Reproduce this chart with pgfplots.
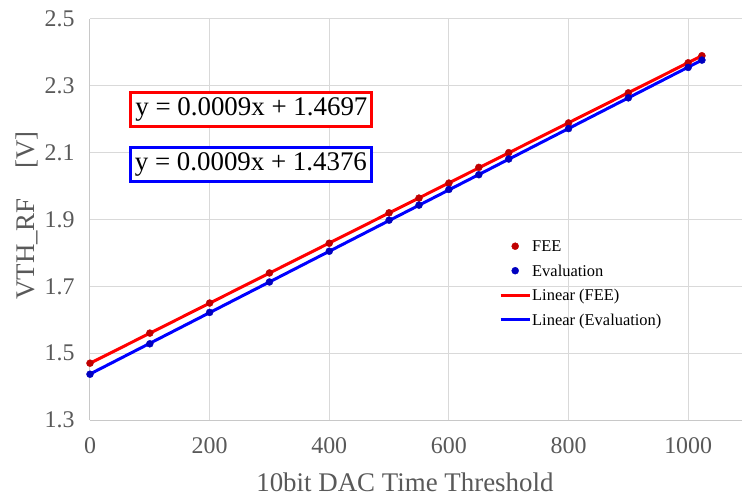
\documentclass[border=0pt]{standalone}
\usepackage{fontspec}
\setmainfont{Liberation Serif}
\usepackage{pgfplots}
\pgfplotsset{compat=1.18}
\usetikzlibrary{calc}

\definecolor{txtgray}{HTML}{595959}
\definecolor{gridgray}{HTML}{D9D9D9}
\definecolor{axgray}{HTML}{C8C8C8}
\definecolor{feemark}{HTML}{C00000}
\definecolor{evalmark}{HTML}{0000C0}
\definecolor{feeline}{HTML}{FF0000}
\definecolor{evalline}{HTML}{0000FF}

\pgfplotsset{
  markleg/.style={legend image code/.code={\path[draw=none] (0bp,0bp) -- (29bp,0bp);
    \draw[##1] plot[only marks] coordinates {(14.5bp,0bp)};}},
  lineleg/.style={legend image code/.code={\draw[##1] (0bp,0bp) -- (29bp,0bp);}},
}

\begin{document}
\begin{tikzpicture}
\begin{axis}[
  scale only axis,
  width=652bp, height=401bp,
  xmin=0, xmax=1090,
  ymin=1.3, ymax=2.5,
  xtick={0,200,400,600,800,1000},
  ytick={1.3,1.5,1.7,1.9,2.1,2.3,2.5},
  axis x line*=bottom,
  axis y line*=left,
  axis line style={draw=axgray, line width=1bp},
  grid=major,
  grid style={gridgray, line width=1bp},
  major tick length=0pt,
  tick label style={font=\fontsize{24}{24}\selectfont, text=txtgray},
  /pgf/number format/assume math mode=true,
  xticklabel style={yshift=-14bp, /pgf/number format/1000 sep={}},
  yticklabel style={xshift=-12bp, /pgf/number format/fixed,
    /pgf/number format/precision=1, /pgf/number format/fixed zerofill},
  xlabel={10bit DAC Time Threshold},
  ylabel={VTH\_RF\hspace{1.1em}[V]},
  label style={font=\fontsize{27}{27}\selectfont, text=txtgray},
  xlabel style={at={(axis description cs:0.483,-0.155)}, anchor=center},
  ylabel style={at={(axis description cs:-0.096,0.51)}, anchor=center},
  legend style={at={(rel axis cs:0.6273,0.4476)}, anchor=north west,
    draw=none, fill=none, font=\fontsize{16.5}{16.5}\selectfont,
    inner sep=0pt, row sep=13.5bp, column sep=1bp,
    nodes={inner sep=0pt, text height=11bp, text depth=0pt}},
  legend cell align=left,
]
\coordinate (sw) at (rel axis cs:0,0);
\coordinate (ne) at (rel axis cs:1,1);

% measured points
\addplot[only marks, mark=*, mark size=3.5bp, feemark, markleg]
  coordinates {
    (0,1.470) (100,1.560) (200,1.650) (300,1.740) (400,1.829)
    (500,1.920) (550,1.964) (600,2.009) (650,2.056) (700,2.100)
    (800,2.189) (900,2.279) (1000,2.369) (1023,2.390)
  };
\addlegendentry{FEE}
\addplot[only marks, mark=*, mark size=3.5bp, evalmark, markleg]
  coordinates {
    (0,1.437) (100,1.528) (200,1.622) (300,1.713) (400,1.805)
    (500,1.898) (550,1.943) (600,1.990) (650,2.034) (700,2.081)
    (800,2.172) (900,2.264) (1000,2.355) (1023,2.377)
  };
\addlegendentry{Evaluation}

% linear trend lines
\addplot[feeline, line width=3bp, no markers, lineleg]
  coordinates {(0,1.4697) (1023,2.3900)};
\addlegendentry{Linear (FEE)}
\addplot[evalline, line width=3bp, no markers, lineleg]
  coordinates {(0,1.4376) (1023,2.3770)};
\addlegendentry{Linear (Evaluation)}

% fit equations
\node[draw=feeline, line width=3bp, fill=white, inner xsep=4.5bp, inner ysep=0pt,
  minimum height=34bp, font=\fontsize{27}{27}\selectfont]
  at (axis cs:269.8,2.229) {y = 0.0009x + 1.4697};
\node[draw=evalline, line width=3bp, fill=white, inner xsep=4.5bp, inner ysep=0pt,
  minimum height=34bp, font=\fontsize{27}{27}\selectfont]
  at (axis cs:269,2.065) {y = 0.0009x + 1.4376};
\end{axis}
\pgfresetboundingbox
\path ($(sw)+(-90bp,-76bp)$) rectangle ($(ne)+(0bp,19bp)$);
\end{tikzpicture}
\end{document}
